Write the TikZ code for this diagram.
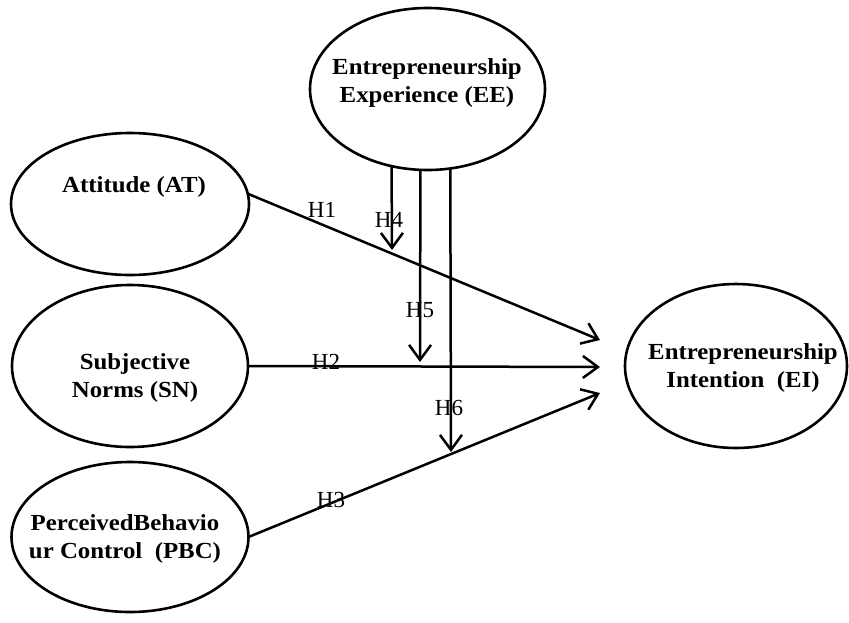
\documentclass[tikz,border=0pt]{standalone}
\usepackage{fontspec}
\setmainfont{Liberation Serif}
\newfontfamily\boxfont{Liberation Serif}[FakeStretch=1.08]
\usetikzlibrary{shapes.geometric,arrows.meta}
\begin{document}
\begin{tikzpicture}[x=1pt,y=-1pt,
  ell/.style={ellipse,draw,line width=2.6pt,inner sep=0pt,outer sep=0pt},
  lbl/.style={font=\boxfont\bfseries\fontsize{23}{28}\selectfont,align=center,inner sep=0pt},
  hyp/.style={font=\fontsize{23}{26}\selectfont,inner sep=0pt},
  arr/.style={line width=2.5pt,-{Straight Barb[length=15pt,width=22pt]}}]
\useasboundingbox[fill=white] (0,0) rectangle (849,622);
% ellipses
\node[ell,minimum width=238pt,minimum height=142pt] (AT) at (130,204) {};
\node[ell,minimum width=236pt,minimum height=162pt] (SN) at (130,366) {};
\node[ell,minimum width=237pt,minimum height=150pt] (PBC) at (130,537) {};
\node[ell,minimum width=235pt,minimum height=162pt] (EE) at (427.5,89) {};
\node[ell,minimum width=222pt,minimum height=164pt] (EI) at (736,366) {};
% texts
\node[lbl] (ATt) at (134,187) {Attitude (AT)};
\node[lbl] (SNt) at (135,378) {Subjective\\Norms (SN)};
\node[lbl] (PBCt) at (125,539) {PerceivedBehavio\\ur Control~ (PBC)};
\node[lbl] (EEt) at (427,83) {Entrepreneurship\\Experience (EE)};
\node[lbl] (EIt) at (743,368) {Entrepreneurship\\Intention~ (EI)};
% free ends
\coordinate (t1) at (600,340);
\coordinate (t2) at (600,367);
\coordinate (t3) at (600,393);
\coordinate (t4) at (392,250);
\coordinate (t5) at (420,362);
\coordinate (t6) at (451,452);
% connectors
\draw[arr] (AT.5) -- (t1);
\draw[arr] (SN.east) -- (t2);
\draw[arr] (PBC.east) -- (t3);
\draw[arr] (EE.245.6) -- (t4);
\draw[arr] (EE.265.1) -- (t5);
\draw[arr] (EE.286.8) -- (t6);
% hypothesis labels
\node[hyp] (h1) at (322,210) {H1};
\node[hyp] (h2) at (326,362) {H2};
\node[hyp] (h3) at (331,500) {H3};
\node[hyp] (h4) at (389,220) {H4};
\node[hyp] (h5) at (420,310) {H5};
\node[hyp] (h6) at (449,408) {H6};
\end{tikzpicture}
\end{document}
